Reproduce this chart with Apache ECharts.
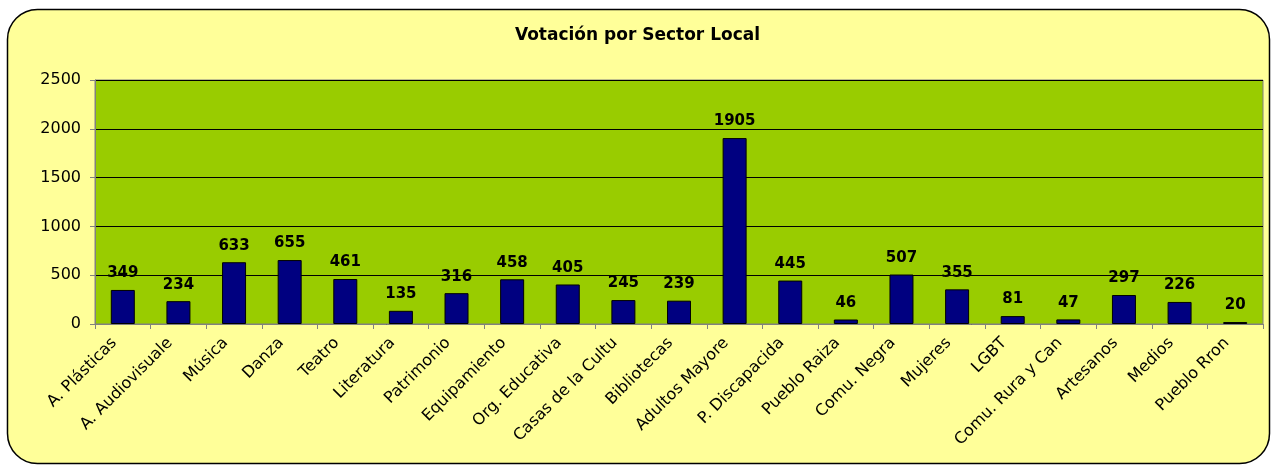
<!DOCTYPE html>
<html>
<head>
<meta charset="utf-8">
<script src="https://cdn.jsdelivr.net/npm/echarts@6/dist/echarts.min.js"></script>
<style>
html,body{margin:0;padding:0;background:#fff;}
#c{width:1275px;height:466px;}
</style>
</head>
<body>
<div id="c"></div>
<script>
var categories = ["A. Plásticas","A. Audiovisuale","Música","Danza","Teatro","Literatura","Patrimonio","Equipamiento","Org. Educativa","Casas de la Cultu","Bibliotecas","Adultos Mayore","P. Discapacida","Pueblo Raiza","Comu. Negra","Mujeres","LGBT","Comu. Rura y Can","Artesanos","Medios","Pueblo Rron"];
var votos = [349,234,633,655,461,135,316,458,405,245,239,1905,445,46,507,355,81,47,297,226,20];
var yTicks = [0,500,1000,1500,2000,2500];

var chart = echarts.init(document.getElementById('c'));
chart.setOption({
  backgroundColor: '#ffffff',
  animation: false,
  graphic: [{
    type: 'rect', z: -10, silent: true,
    shape: {x: 7.5, y: 9.5, width: 1262, height: 454, r: 30},
    style: {fill: '#FFFF99', stroke: '#000000', lineWidth: 1.5}
  }],
  title: {
    text: 'Votación por Sector Local',
    left: 'center', top: 22,
    textStyle: {fontFamily: 'DejaVu Sans', fontWeight: 'bold', fontSize: 17, color: '#000'}
  },
  grid: {
    left: 95, right: 12, top: 80, bottom: 142,
    show: true, backgroundColor: '#99CC00', borderColor: '#808080', borderWidth: 1
  },
  xAxis: {
    type: 'category',
    data: categories,
    axisLine: {lineStyle: {color: '#808080', width: 1}},
    axisTick: {show: true, alignWithLabel: false, length: 5, lineStyle: {color: '#808080'}},
    axisLabel: {
      interval: 0, rotate: 45, margin: 8, padding: [0, 12, 0, 0],
      fontFamily: 'DejaVu Sans', fontSize: 16, color: '#000'
    }
  },
  yAxis: {
    type: 'value',
    min: yTicks[0], max: yTicks[yTicks.length - 1], interval: 500,
    axisLine: {show: true, lineStyle: {color: '#808080'}},
    axisTick: {show: true, length: 5, lineStyle: {color: '#808080'}},
    splitLine: {show: true, lineStyle: {color: '#000', width: 1}},
    axisLabel: {fontFamily: 'DejaVu Sans', fontSize: 16, color: '#000', margin: 14,
      formatter: function (v) { return String(v); }}
  },
  series: [{
    type: 'bar',
    data: votos,
    barWidth: 24,
    itemStyle: {color: '#000080', borderColor: '#000', borderWidth: 1},
    label: {
      show: true, position: 'top', distance: 9,
      fontFamily: 'DejaVu Sans', fontWeight: 'bold', fontSize: 15, color: '#000'
    }
  }]
});
</script>
</body>
</html>
